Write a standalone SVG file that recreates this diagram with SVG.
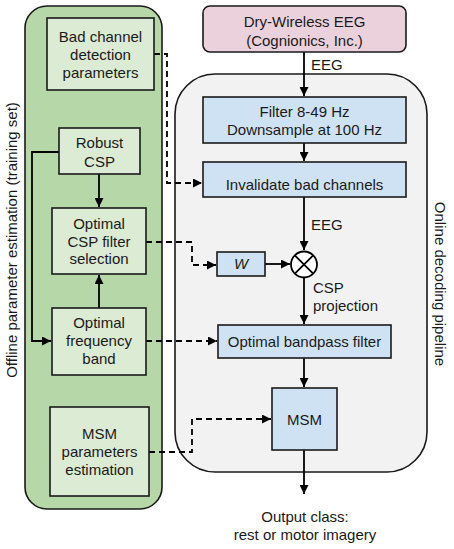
<svg xmlns="http://www.w3.org/2000/svg" width="454" height="549" viewBox="0 0 454 549">
<style>
text{font-family:"Liberation Sans",Arial,sans-serif;font-size:15px;fill:#1a1a1a;text-anchor:middle}
.gbox{fill:#dcebd4;stroke:#1a1a1a;stroke-width:1.6}
.bbox{fill:#cfe2f3;stroke:#1a1a1a;stroke-width:1.6}
.ln{fill:none;stroke:#000;stroke-width:1.8}
.dash{fill:none;stroke:#000;stroke-width:1.8;stroke-dasharray:6 4}
</style>
<defs>
<marker id="ah" viewBox="0 0 10 10" refX="10" refY="5" markerWidth="9" markerHeight="9" markerUnits="userSpaceOnUse" orient="auto">
<path d="M0,0 L10,5 L0,10 z" fill="#000"/>
</marker>
</defs>
<rect width="454" height="549" fill="#fff"/>
<g id="offline-panel">
<rect x="25" y="6" width="137" height="503" rx="22" fill="#b6d7a8" stroke="#1a1a1a" stroke-width="1.6"/>
<text transform="translate(17,240) rotate(-90)">Offline parameter estimation (training set)</text>
</g>
<g id="online-panel">
<rect x="175" y="74" width="252" height="398" rx="40" fill="#f2f2f2" stroke="#1a1a1a" stroke-width="1.6"/>
<text transform="translate(435,284) rotate(90)">Online decoding  pipeline</text>
</g>
<g id="connectors">
<path class="ln" d="M304,52 V96" marker-end="url(#ah)"/>
<path class="ln" d="M304,143 V161" marker-end="url(#ah)"/>
<path class="ln" d="M304,197 V250" marker-end="url(#ah)"/>
<path class="ln" d="M265,264 H290" marker-end="url(#ah)"/>
<path class="ln" d="M304,278 V324" marker-end="url(#ah)"/>
<path class="ln" d="M304,358 V387" marker-end="url(#ah)"/>
<path class="ln" d="M304,450 V494" marker-end="url(#ah)"/>
<path class="ln" d="M99,174 V207" marker-end="url(#ah)"/>
<path class="ln" d="M99,308 V275" marker-end="url(#ah)"/>
<path class="ln" d="M59,152 H32 V341 H51" marker-end="url(#ah)"/>
<path class="dash" d="M154,54 H167 V183 H202" marker-end="url(#ah)"/>
<path class="dash" d="M146,242 H192 V265 H216" marker-end="url(#ah)"/>
<path class="dash" d="M146,341 H217" marker-end="url(#ah)"/>
<path class="dash" d="M149,452 H192 V419 H271" marker-end="url(#ah)"/>
</g>
<g id="bad-channel-params">
<rect class="gbox" x="47" y="18" width="107" height="72"/>
<text x="100.5" y="42">Bad channel</text>
<text x="100.5" y="60">detection</text>
<text x="100.5" y="78">parameters</text>
</g>
<g id="robust-csp">
<rect class="gbox" x="59" y="128" width="81" height="46"/>
<text x="99.5" y="148">Robust</text>
<text x="99.5" y="167">CSP</text>
</g>
<g id="optimal-csp">
<rect class="gbox" x="52" y="208" width="94" height="66"/>
<text x="99" y="229">Optimal</text>
<text x="99" y="247">CSP filter</text>
<text x="99" y="264">selection</text>
</g>
<g id="optimal-band">
<rect class="gbox" x="52" y="308" width="94" height="67"/>
<text x="99" y="328">Optimal</text>
<text x="99" y="346">frequency</text>
<text x="99" y="364">band</text>
</g>
<g id="msm-params">
<rect class="gbox" x="50" y="407" width="99" height="89"/>
<text x="99.5" y="439">MSM</text>
<text x="99.5" y="457">parameters</text>
<text x="99.5" y="475">estimation</text>
</g>
<g id="eeg-source">
<rect x="203" y="6" width="203" height="46" rx="7" fill="#ead1dc" stroke="#1a1a1a" stroke-width="1.6"/>
<text x="304.5" y="27">Dry-Wireless EEG</text>
<text x="304.5" y="46">(Cognionics, Inc.)</text>
</g>
<text x="311" y="70" style="text-anchor:start">EEG</text>
<g id="filter">
<rect class="bbox" x="203" y="97" width="203" height="46"/>
<text x="304.5" y="117">Filter 8-49 Hz</text>
<text x="304.5" y="135">Downsample at 100 Hz</text>
</g>
<g id="invalidate">
<rect class="bbox" x="203" y="162" width="203" height="35"/>
<text x="304.5" y="190">Invalidate bad channels</text>
</g>
<text x="311" y="230" style="text-anchor:start">EEG</text>
<g id="w">
<rect class="bbox" x="217" y="252" width="48" height="24"/>
<text x="241" y="269" style="font-style:italic">W</text>
</g>
<g id="multiply">
<circle cx="304" cy="264.5" r="13" fill="#fff" stroke="#000" stroke-width="1.8"/>
<path d="M294.8,255.3 L313.2,273.7 M313.2,255.3 L294.8,273.7" stroke="#000" stroke-width="1.8"/>
</g>
<text x="313" y="293" style="text-anchor:start">CSP</text>
<text x="313" y="311" style="text-anchor:start">projection</text>
<g id="bandpass">
<rect class="bbox" x="218" y="325" width="173" height="33"/>
<text x="304.5" y="347">Optimal bandpass filter</text>
</g>
<g id="msm">
<rect class="bbox" x="272" y="388" width="65" height="62"/>
<text x="304.5" y="425">MSM</text>
</g>
<g id="output">
<text x="305" y="522">Output class:</text>
<text x="305" y="540">rest or motor imagery</text>
</g>
</svg>
